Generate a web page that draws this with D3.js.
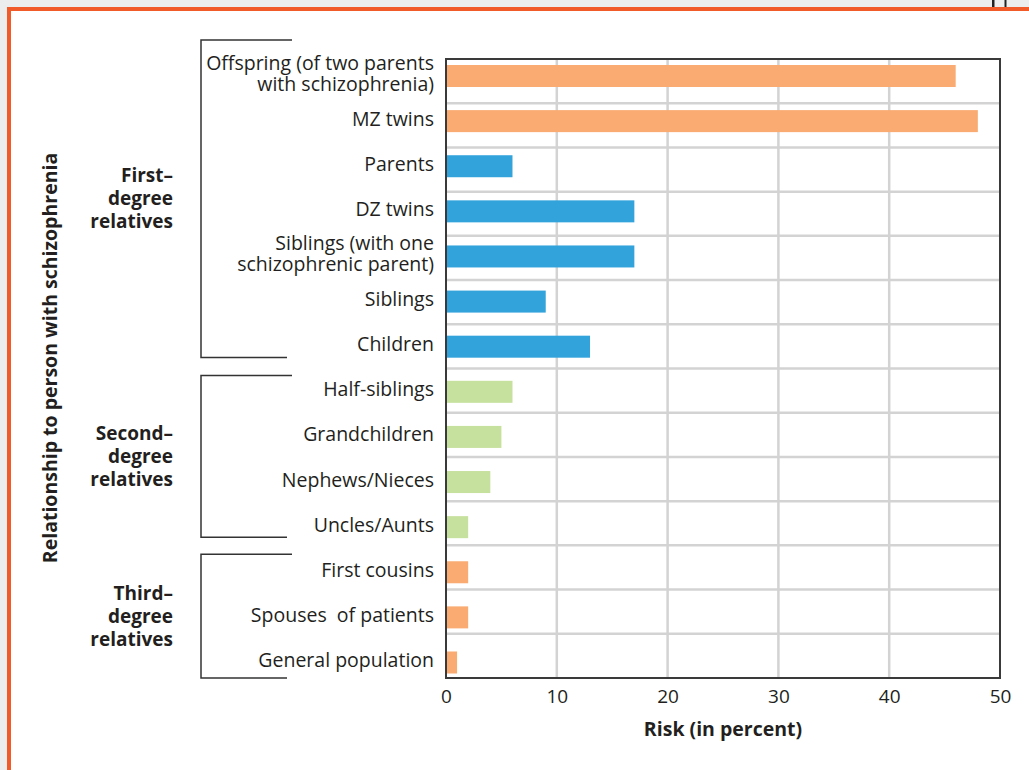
<!DOCTYPE html>
<html>
<head>
<meta charset="utf-8">
<script src="https://cdn.jsdelivr.net/npm/d3@7"></script>
<style>
  body { margin: 0; background: #fff; }
  text { font-family: "Open Sans", "Noto Sans", sans-serif; fill: #231f20; }
</style>
</head>
<body>
<div id="chart"></div>
<script>
var svgWidth = 1029;
var svgHeight = 770;

var categories = [
    "Offspring (of two parents|with schizophrenia)",
    "MZ twins",
    "Parents",
    "DZ twins",
    "Siblings (with one|schizophrenic parent)",
    "Siblings",
    "Children",
    "Half-siblings",
    "Grandchildren",
    "Nephews/Nieces",
    "Uncles/Aunts",
    "First cousins",
    "Spouses  of patients",
    "General population"
];
var risk = [46, 48, 6, 17, 17, 9, 13, 6, 5, 4, 2, 2, 2, 1];
var colourKey = ["o", "o", "b", "b", "b", "b", "b", "g", "g", "g", "g", "o", "o", "o"];

var groupNames = ["First–|degree|relatives", "Second–|degree|relatives", "Third–|degree|relatives"];
var groupFirst = [0, 7, 11];
var groupLast = [6, 10, 13];

var xTicks = [0, 10, 20, 30, 40, 50];

var colours = { o: "#f9ab72", b: "#33a3dc", g: "#c6e09d" };

var margin = { top: 59, right: 29, bottom: 92, left: 446 };
var chartWidth = svgWidth - margin.left - margin.right;
var chartHeight = svgHeight - margin.top - margin.bottom;

var svg = d3.select("#chart")
    .append("svg")
    .attr("width", svgWidth)
    .attr("height", svgHeight);

// page frame
svg.append("rect").attr("x", 0).attr("y", 0).attr("width", svgWidth).attr("height", 7).attr("fill", "#eceeee");
svg.append("rect").attr("x", 0).attr("y", 0).attr("width", 7).attr("height", svgHeight).attr("fill", "#eceeee");
svg.append("rect").attr("x", 9).attr("y", 9).attr("width", 1100).attr("height", 900)
    .attr("fill", "none").attr("stroke", "#f15a29").attr("stroke-width", 4);
svg.append("rect").attr("x", 992).attr("y", 0).attr("width", 2.5).attr("height", 7).attr("fill", "#222");
svg.append("rect").attr("x", 1004.5).attr("y", 0).attr("width", 2).attr("height", 7).attr("fill", "#222");

var chartGroup = svg.append("g")
    .attr("transform", `translate(${margin.left},${margin.top})`);

var xScale = d3.scaleLinear().domain([0, 50]).range([0, chartWidth]);

// rows (grid) and bar centres drift slightly apart in the original drawing
var rowScale = d3.scaleBand().domain(categories).range([0, chartHeight]);
var barScale = d3.scalePoint().domain(categories).range([17, 603.5]);
var barHeight = 22;

// grid
chartGroup.selectAll("line.hgrid")
    .data(categories.slice(1))
    .enter()
    .append("line")
    .attr("x1", 0).attr("x2", chartWidth)
    .attr("y1", d => rowScale(d)).attr("y2", d => rowScale(d))
    .attr("stroke", "#d3d3d3").attr("stroke-width", 2.5);

chartGroup.selectAll("line.vgrid")
    .data(xTicks.slice(1, -1))
    .enter()
    .append("line")
    .attr("x1", d => xScale(d)).attr("x2", d => xScale(d))
    .attr("y1", 0).attr("y2", chartHeight)
    .attr("stroke", "#d3d3d3").attr("stroke-width", 2.5);

// bars
chartGroup.selectAll("rect.bar")
    .data(categories)
    .enter()
    .append("rect")
    .attr("x", 1)
    .attr("y", d => barScale(d) - barHeight / 2)
    .attr("width", (d, i) => xScale(risk[i]) - 1)
    .attr("height", barHeight)
    .attr("fill", (d, i) => colours[colourKey[i]]);

// frame
chartGroup.append("rect")
    .attr("x", 0).attr("y", 0)
    .attr("width", chartWidth).attr("height", chartHeight)
    .attr("fill", "none").attr("stroke", "#3a3a3a").attr("stroke-width", 2);

// category labels
var lineH = 21;
var catLabels = chartGroup.selectAll("text.cat")
    .data(categories)
    .enter()
    .append("text")
    .attr("text-anchor", "end")
    .style("font-size", "19.5px")
    .attr("y", d => barScale(d));

catLabels.each(function(d) {
    var lines = d.split("|");
    var t = d3.select(this);
    lines.forEach(function(l, k) {
        t.append("tspan")
            .attr("x", -12)
            .attr("dy", k === 0 ? ((-(lines.length - 1) / 2) * lineH + 4.5) : lineH)
            .style("white-space", "pre")
            .text(l);
    });
});

// x axis
var bottomAxis = d3.axisBottom(xScale).tickValues(xTicks).tickSize(0).tickPadding(12);
var xAxis = chartGroup.append("g")
    .attr("transform", `translate(0, ${chartHeight})`)
    .call(bottomAxis);
xAxis.select(".domain").remove();
xAxis.selectAll("text")
    .style("font-family", "'Open Sans', sans-serif")
    .style("font-size", "19px")
    .attr("fill", "#231f20");

chartGroup.append("text")
    .attr("x", chartWidth / 2)
    .attr("y", chartHeight + 58)
    .attr("text-anchor", "middle")
    .style("font-size", "19.5px")
    .style("font-weight", "bold")
    .text("Risk (in percent)");

// brackets
var bracketX = 201 - margin.left;
var topOffsets = [-19, 7, 9];
var bottomOffsets = [-11, -8, 0];
groupNames.forEach(function(name, g) {
    var y0 = rowScale(categories[groupFirst[g]]) + topOffsets[g];
    var y1 = rowScale(categories[groupLast[g]]) + rowScale.bandwidth() + bottomOffsets[g];
    chartGroup.append("path")
        .attr("d", `M${292 - margin.left},${y0}H${bracketX}V${y1}H${287 - margin.left}`)
        .attr("fill", "none")
        .attr("stroke", "#333")
        .attr("stroke-width", 1.5);

    var lines = name.split("|");
    var mid = (y0 + y1) / 2;
    var t = chartGroup.append("text")
        .attr("text-anchor", "end")
        .style("font-size", "19px")
        .style("font-weight", "bold")
        .attr("y", mid);
    lines.forEach(function(l, k) {
        t.append("tspan")
            .attr("x", 173 - margin.left)
            .attr("dy", k === 0 ? (-lineH * 1.1 + 6.5) : lineH * 1.1)
            .text(l);
    });
});

// y axis title
svg.append("text")
    .attr("transform", "translate(57, 358) rotate(-90)")
    .attr("text-anchor", "middle")
    .style("font-size", "19.5px")
    .style("font-weight", "bold")
    .text("Relationship to person with schizophrenia");
</script>
</body>
</html>
